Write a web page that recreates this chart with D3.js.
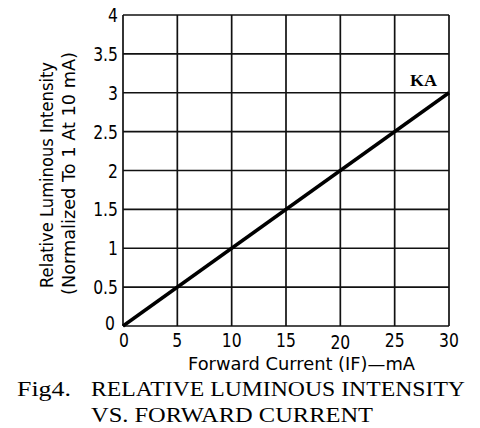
<!DOCTYPE html>
<html><head><meta charset="utf-8">
<script src="https://cdn.jsdelivr.net/npm/d3@7"></script>
<style>body{margin:0;background:#fff}</style>
</head><body>
<svg id="c" width="480" height="428"></svg>
<script>
const xTicks = [0, 5, 10, 15, 20, 25, 30];
const yTicks = [0, 0.5, 1, 1.5, 2, 2.5, 3, 3.5, 4];
const yTickLabels = ["0", "0.5", "1", "1.5", "2", "2.5", "3", "3.5", "4"];
const currentMA = [0, 30];
const intensityKA = [0, 3];
const seriesName = "KA";
const xTitle = "Forward Current (IF)\u2014mA";
const yTitle1 = "Relative Luminous Intensity";
const yTitle2 = "(Normalized To 1 At 10 mA)";
const caption1a = "Fig4.";
const caption1b = "RELATIVE LUMINOUS INTENSITY";
const caption2 = "VS. FORWARD CURRENT";

const svg = d3.select("#c");
const L = 123, R = 449, T = 15, B = 326;
const x = d3.scaleLinear().domain([0, 30]).range([L, R]);
const y = d3.scaleLinear().domain([0, 4]).range([B, T]);
const sans = "'DejaVu Sans',sans-serif";
const serif = "'Liberation Serif','DejaVu Serif',serif";

// grid
const g = svg.append("g").attr("stroke", "#111").attr("stroke-width", 1.7);
g.selectAll(".vx").data(xTicks).join("line")
  .attr("x1", d => x(d)).attr("x2", d => x(d)).attr("y1", T).attr("y2", B);
g.selectAll(".hy").data(yTicks).join("line")
  .attr("x1", L).attr("x2", R).attr("y1", d => y(d)).attr("y2", d => y(d));

// y tick labels
svg.append("g").selectAll("text").data(yTicks).join("text")
  .attr("transform", (d,i) => `translate(${i === 0 ? 115 : 118},${y(d) + (i === 0 ? 4 : 7)}) scale(0.78,1)`)
  .attr("text-anchor", "end")
  .attr("font-family", sans).attr("font-size", 20)
  .text((d,i) => yTickLabels[i]);

// x tick labels
svg.append("g").selectAll("text").data(xTicks).join("text")
  .attr("transform", d => `translate(${x(d) + (d === 0 ? 1 : 0)},${B + (d === 20 ? 23 : 21)}) scale(0.78,1)`)
  .attr("text-anchor", "middle")
  .attr("font-family", sans).attr("font-size", 20)
  .text(d => d);

// series line
svg.append("path")
  .datum(currentMA.map((c, i) => [c, intensityKA[i]]))
  .attr("d", d3.line().x(d => x(d[0])).y(d => y(d[1])))
  .attr("fill", "none").attr("stroke", "#000").attr("stroke-width", 3.4);

svg.append("text").attr("x", 410).attr("y", 86)
  .attr("font-family", serif)
  .attr("font-weight", "bold").attr("font-size", 17)
  .attr("textLength", 27).attr("lengthAdjust", "spacingAndGlyphs").text(seriesName);

// axis titles
svg.append("text").attr("x", 188).attr("y", 370)
  .attr("font-family", sans).attr("font-size", 17)
  .attr("textLength", 227).attr("lengthAdjust", "spacingAndGlyphs").text(xTitle);

svg.append("text").attr("transform", "translate(53,288) rotate(-90)")
  .attr("font-family", sans).attr("font-size", 18)
  .attr("textLength", 226).attr("lengthAdjust", "spacingAndGlyphs").text(yTitle1);
svg.append("text").attr("transform", "translate(75,295) rotate(-90)")
  .attr("font-family", sans).attr("font-size", 18)
  .attr("textLength", 243).attr("lengthAdjust", "spacingAndGlyphs").text(yTitle2);

// caption
svg.append("text").attr("x", 17).attr("y", 396)
  .attr("font-family", serif).attr("font-size", 22)
  .attr("textLength", 54).attr("lengthAdjust", "spacingAndGlyphs").text(caption1a);
svg.append("text").attr("x", 91).attr("y", 396)
  .attr("font-family", serif).attr("font-size", 22)
  .attr("textLength", 374).attr("lengthAdjust", "spacingAndGlyphs").text(caption1b);
svg.append("text").attr("x", 91).attr("y", 422)
  .attr("font-family", serif).attr("font-size", 22)
  .attr("textLength", 282).attr("lengthAdjust", "spacingAndGlyphs").text(caption2);
</script>
</body></html>
